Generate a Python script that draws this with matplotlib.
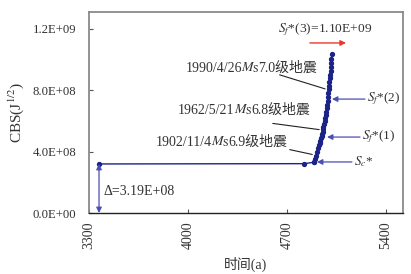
import matplotlib
matplotlib.use("Agg")
import matplotlib.pyplot as plt
from matplotlib.ticker import FuncFormatter
from matplotlib.offsetbox import TextArea, HPacker, AnnotationBbox

plt.rcParams["font.family"] = ["Liberation Serif", "Noto Sans CJK SC"]
plt.rcParams["mathtext.fontset"] = "stix"

# 时间 (a) 与 CBS 值
years = [3371, 4822, 4890, 4893, 4898, 4905, 4912, 4918, 4924, 4930, 4936,
         4940, 4944, 4948, 4952, 4955, 4958, 4962, 4966, 4970, 4974, 4978,
         4981, 4984, 4987, 4990, 4992, 4994, 4996, 4999, 5002, 5005, 5008,
         5010, 5012, 5014, 5016]
cbs = [3.19, 3.21, 3.30, 3.32, 3.50, 3.70, 3.95, 4.20, 4.40, 4.55, 4.70,
       4.85, 5.00, 5.15, 5.30, 5.45, 5.60, 5.80, 6.00, 6.20, 6.40, 6.60,
       6.80, 7.05, 7.30, 7.55, 7.80, 8.05, 8.25, 8.50, 8.75, 9.00, 9.25,
       9.50, 9.75, 10.0, 10.35]
cbs = [v * 1e8 for v in cbs]

xticks = [3300, 4000, 4700, 5400]
yticks = [0, 4e8, 8e8, 1.2e9]

# 地震标注: (日期, 震级, 文字右端, 引线起点, 引线终点)
quakes = [
    ("1990/4/26", "7.0", (4912, 9.43e8), (4629, 9.04e8), (4988, 8.02e8)),
    ("1962/5/21", "6.8", (4862, 6.70e8), (4580, 5.85e8), (4947, 5.40e8)),
    ("1902/11/4", "6.9", (4700, 4.62e8), (4700, 4.16e8), (4898, 3.77e8)),
]
# 阈值箭头: (标签, y, 箭尾x, 箭头x)
marks = [
    (r"$S_f$*(2)", 7.41e8, 5251, 5018),
    (r"$S_f$*(1)", 4.94e8, 5216, 4983),
    (r"$S_c$*", 3.32e8, 5159, 4912),
]

NAVY = "#1c2388"
BLUE = "#4b4fb0"
TXT = "#333333"

fig = plt.figure(figsize=(4.11, 2.74), dpi=100)
ax = fig.add_axes([0.2165, 0.2226, 0.764, 0.7334])

ax.plot(years, cbs, color=NAVY, lw=1.0, marker="o", ms=2.8,
        mec=NAVY, mfc=NAVY, zorder=3)

ax.set_xlim(3300, 5520)
ax.set_ylim(0, 1.307e9)
ax.set_xticks(xticks)
ax.set_yticks(yticks)
ax.yaxis.set_major_formatter(FuncFormatter(lambda v, p: f"{v:.1E}"))
ax.tick_params(direction="in", length=3, labelcolor=TXT, color="#555555")
ax.tick_params(axis="y", labelsize=9.2, pad=9)
ax.tick_params(axis="x", labelsize=10, pad=6, labelrotation=90)
for s in ("left", "top", "right"):
    ax.spines[s].set_color("#8a8a8a")
    ax.spines[s].set_linewidth(1.3)
ax.spines["bottom"].set_color("#222222")
ax.spines["bottom"].set_linewidth(1.0)

ax.set_ylabel(r"CBS(J$^{1/2}$)", fontsize=11, color=TXT, labelpad=5)
ax.set_xlabel("时间(a)", fontsize=10, color=TXT, labelpad=6)

tp = dict(fontsize=10, color=TXT, family=["Liberation Serif", "Noto Sans CJK SC"])
for date, mag, txy, l0, l1 in quakes:
    box = HPacker(children=[TextArea(date, textprops=tp),
                            TextArea(r"$M_{\rm S}$", textprops=tp),
                            TextArea(mag + "级地震", textprops=tp)],
                  align="baseline", pad=0, sep=-0.8)
    ax.add_artist(AnnotationBbox(box, txy, xycoords="data", frameon=False,
                                 box_alignment=(1, 0.5), pad=0))
    ax.annotate("", xy=l1, xytext=l0,
                arrowprops=dict(arrowstyle="-", color="#222222", lw=0.8))

for label, y, x0, x1 in marks:
    ax.annotate("", xy=(x1, y), xytext=(x0, y),
                arrowprops=dict(arrowstyle="-|>", color=BLUE, lw=0.9,
                                mutation_scale=8, shrinkA=0, shrinkB=0))
    ax.text(x0 + 12, y, label, fontsize=9.5, color=TXT, va="center", ha="left")

# 顶部 Sf*(3)
ax.text(4968, 1.19e9, r"$S_f$*(3)=1.10E+09", fontsize=9.7, color=TXT,
        ha="center", va="center")
ax.annotate("", xy=(5117, 1.106e9), xytext=(4862, 1.106e9),
            arrowprops=dict(arrowstyle="-|>", color="#e8392a", lw=1.0,
                            mutation_scale=8, shrinkA=0, shrinkB=0))

# Δ 双箭头
ax.annotate("", xy=(years[0], 0), xytext=(years[0], cbs[0]),
            arrowprops=dict(arrowstyle="<|-|>", color=BLUE, lw=0.9,
                            mutation_scale=8, shrinkA=0, shrinkB=0))
ax.text(3400, 1.37e8, "Δ=3.19E+08", fontsize=10, color=TXT,
        ha="left", va="center")

fig.savefig("out.png", dpi=100)
